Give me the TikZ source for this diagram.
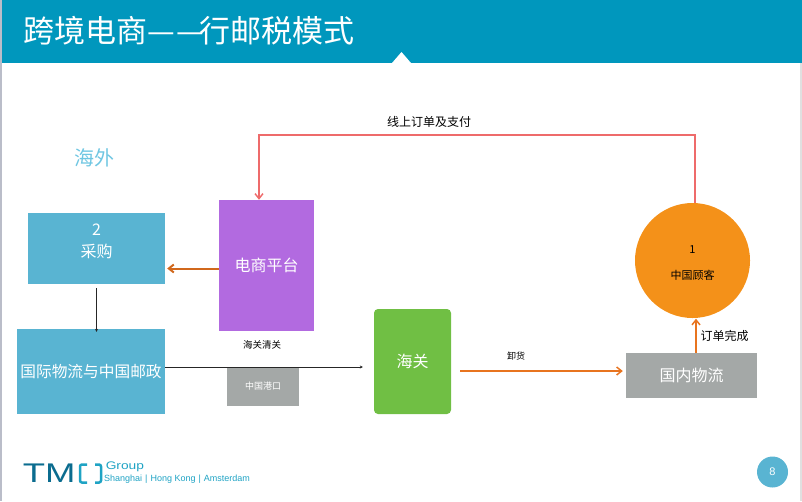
\documentclass[tikz,border=0pt]{standalone}
\usepackage{fontspec}
\setmainfont{Noto Sans CJK SC}
\newfontfamily\latinfont{Liberation Sans}
\usetikzlibrary{arrows.meta}
\definecolor{headblue}{HTML}{0097BD}
\definecolor{boxblue}{HTML}{59B4D2}
\definecolor{skyblue}{HTML}{6FC6E2}
\definecolor{platpurple}{HTML}{B26AE0}
\definecolor{gatesgreen}{HTML}{70BF44}
\definecolor{boxgray}{HTML}{A4A8A7}
\definecolor{custorange}{HTML}{F49119}
\definecolor{arroworange}{HTML}{E8741F}
\definecolor{linered}{HTML}{EE6B6B}
\definecolor{logoblue}{HTML}{0B6C8F}
\definecolor{logocyan}{HTML}{1FA3C4}
\definecolor{stripgray}{HTML}{BABDC9}
\newcommand{\fs}[1]{\fontsize{#1}{#1}\selectfont}
\tikzset{
    box/.style={draw=none, inner sep=0pt, text=white, align=center, font=\fs{16}},
    lbl/.style={inner sep=0pt, align=center, font=\fs{12}},
    orangeflow/.style={draw=arroworange, line width=1.5pt, -{Straight Barb[length=5pt,width=8pt]}},
    blackflow/.style={draw=black!85, line width=0.8pt, -{Stealth[length=3pt,width=3pt]}},
}
\begin{document}
\begin{tikzpicture}[x=1pt, y=-1pt]
    \useasboundingbox (0,0) rectangle (802,501);
    \fill[headblue] (0,0) rectangle (802,63);
    \fill[stripgray] (0,0) rectangle (1.5,501);
    \fill[black!12] (800,63) rectangle (802,501);
    \fill[white] (392,63) -- (401.5,52) -- (411,63) -- cycle;
    \node[anchor=west, inner sep=0pt, text=white, font=\fs{31}] (title) at (23,31) {跨境电商—\kern1.5pt—\kern-4.5pt 行邮税模式};

    \node[lbl, text=skyblue, font=\fs{20}] (abroad) at (94,158) {海外};

    \node[box, fill=boxblue, minimum width=137pt, minimum height=71pt] (purchase) at (96.5,248.5) {};
    \node[box] (purchasetext) at (96.5,241) {2\\[6pt]采购};
    \node[box, fill=boxblue, minimum width=148pt, minimum height=85pt, font=\fs{15.7}] (logistics) at (91,371.5) {国际物流与中国邮政};
    \node[box, fill=platpurple, minimum width=95pt, minimum height=131pt] (platform) at (266.5,265.5) {电商平台};
    \node[box, fill=boxgray, minimum width=72pt, minimum height=39pt, font=\fs{9}] (port) at (263,386.5) {中国港口};
    \node[box, fill=gatesgreen, rounded corners=4pt, minimum width=77pt, minimum height=105pt] (customs) at (412.5,361.5) {海关};
    \node[box, fill=boxgray, minimum width=131pt, minimum height=45pt] (domestic) at (691.5,375.5) {国内物流};
    \node[circle, fill=custorange, inner sep=0pt, minimum size=115pt, align=center, font=\fs{11}] (customer) at (692.5,260.5) {\rule{0pt}{13pt}1\\[15pt]中国顾客};

    \node[lbl] (order) at (429,122) {线上订单及支付};
    \node[lbl, font=\fs{9.5}] (clearance) at (262,345) {海关清关};
    \node[lbl, font=\fs{9}] (unload) at (516,356) {卸货};
    \node[lbl] (done) at (724.5,336) {订单完成};

    % red order line over the top
    \coordinate (topright) at (695,135);
    \coordinate (topleft) at (259,135);
    \draw[draw=linered, line width=1.5pt, -{Straight Barb[length=5pt,width=8pt]}]
        ([xshift=2.5pt]customer.north) -- (topright) -- (topleft) -- ([xshift=-7.5pt]platform.north);

    \draw[orangeflow, draw=arroworange!90!black, line width=2pt, shorten >=2pt] ([yshift=-3pt]platform.west) -- ([yshift=-20pt]purchase.east);
    \draw[blackflow, shorten <=4pt, shorten >=-3pt] (purchase.south) -- (logistics.north -| purchase.south);
    \draw[blackflow, shorten >=11pt] ([yshift=4.5pt]logistics.east) -- ([yshift=-5.5pt]customs.west);
    \draw[orangeflow, shorten <=9pt, shorten >=3pt] ([yshift=-9.5pt]customs.east) -- ([yshift=4.5pt]domestic.west);
    \draw[orangeflow] ([xshift=4.5pt]domestic.north) -- ([xshift=3.5pt,yshift=-0.5pt]customer.south);

    % logo
    \node[anchor=west, inner sep=0pt, text=logoblue, font=\latinfont\fs{27}, xscale=1.35] (tm) at (22.5,473.5) {TM};
    \draw[logocyan, line width=2.5pt, rounded corners=2pt] (87,464.5) -- (80,464.5) -- (80,482.5) -- (87,482.5);
    \draw[logocyan, line width=2.5pt, rounded corners=2pt] (95,464.5) -- (101,464.5) -- (101,482.5) -- (95,482.5);
    \node[anchor=west, inner sep=0pt, text=logocyan, font=\latinfont\fs{11}, xscale=1.25] (group) at (105.5,466.5) {Group};
    \node[anchor=west, inner sep=0pt, text=logocyan, font=\latinfont\fs{9}] (cities) at (104,479) {Shanghai\,\,|\,\,Hong Kong\,\,|\,\,Amsterdam};

    \node[circle, fill=boxblue, inner sep=0pt, minimum size=31pt, text=white, font=\latinfont\fs{11}] (page) at (772.5,472) {8};
\end{tikzpicture}
\end{document}
